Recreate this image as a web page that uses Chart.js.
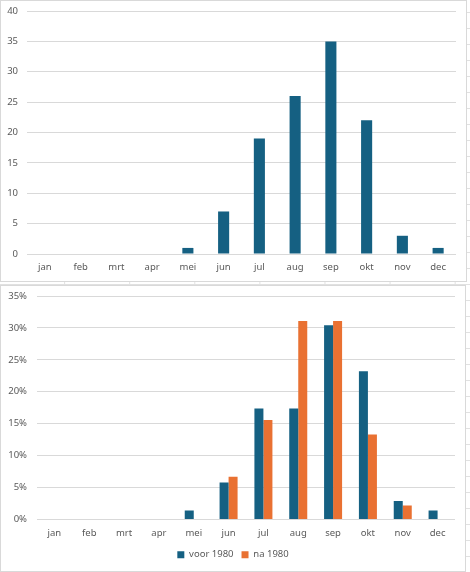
<!DOCTYPE html>
<html>
<head>
<meta charset="utf-8">
<script src="https://cdn.jsdelivr.net/npm/chart.js@4"></script>
<style>
  html, body { margin: 0; padding: 0; }
  body {
    width: 470px; height: 572px; position: relative; overflow: hidden;
    background-color: #fff;
    background-image:
      repeating-linear-gradient(to right, transparent 0, transparent 64px, #e1e1e1 64px, #e1e1e1 65px),
      repeating-linear-gradient(to bottom, transparent 0, transparent 12px, #e1e1e1 12px, #e1e1e1 13px, transparent 13px, transparent 16px);
    background-size: 65.1px 100%, 100% 16px;
    background-position: 0 0, 0 0;
  }
  .box {
    position: absolute; left: 0; background: #fff;
    box-shadow: inset 0 0 0 1px #d9d9d9;
  }
  #boxTop { top: 0; width: 467px; height: 282px; }
  #boxBottom { top: 285px; width: 466px; height: 287px; }
  canvas { position: absolute; left: 0; top: 0; }
</style>
</head>
<body>
<div class="box" id="boxTop"><canvas id="grafiekAantal" width="467" height="282"></canvas></div>
<div class="box" id="boxBottom"><canvas id="grafiekProcent" width="466" height="287"></canvas></div>
<script>
// Maanden en waarden
const maanden = ['jan', 'feb', 'mrt', 'apr', 'mei', 'jun', 'jul', 'aug', 'sep', 'okt', 'nov', 'dec'];
const aantallen = [0, 0, 0, 0, 1, 7, 19, 26, 35, 22, 3, 1];
const voor1980 = [0, 0, 0, 0, 1.4, 5.8, 17.4, 17.4, 30.4, 23.2, 2.9, 1.4];
const na1980 = [0, 0, 0, 0, 0, 6.7, 15.6, 31.1, 31.1, 13.3, 2.2, 0];
const ticksAantal = [0, 5, 10, 15, 20, 25, 30, 35, 40];
const ticksProcent = [0, 5, 10, 15, 20, 25, 30, 35];

const blauw = '#156082';
const oranje = '#E97132';
const tekstKleur = '#595959';
const rasterKleur = '#d9d9d9';
const lettertype = { family: 'Noto Sans', size: 9.5 };

Chart.defaults.animation = false;
Chart.defaults.color = tekstKleur;
Chart.defaults.font.family = 'Noto Sans';

// vaste maten voor de assen, zonder extra randruimte
function vasteBreedte(b) {
    return (s) => { s.width = b; s.paddingTop = 0; s.paddingBottom = 0; };
}
function vasteHoogte(h) {
    return (s) => { s.height = h; s.paddingLeft = 0; s.paddingRight = 0; };
}
// lege as rechts als marge
const rechterMarge = {
    position: 'right',
    grid: { display: false, drawTicks: false },
    border: { display: false },
    ticks: { display: false },
    afterFit: vasteBreedte(11)
};

// Grafiek 1: aantallen per maand
const ctxAantal = document.getElementById('grafiekAantal').getContext('2d');
new Chart(ctxAantal, {
    type: 'bar',
    data: {
        labels: maanden,
        datasets: [{
            label: 'aantal',
            data: aantallen,
            backgroundColor: blauw,
            categoryPercentage: 1,
            barPercentage: 0.31
        }]
    },
    options: {
        responsive: false,
        layout: { padding: { top: 11, right: 0, left: 0, bottom: 0 } },
        plugins: { legend: { display: false }, tooltip: { enabled: false } },
        scales: {
            x: {
                grid: { display: false, drawTicks: false },
                border: { display: false },
                ticks: { font: lettertype, padding: 8, maxRotation: 0 },
                afterFit: vasteHoogte(28)
            },
            y: {
                min: 0,
                max: 40,
                afterBuildTicks: (s) => { s.ticks = ticksAantal.map(v => ({ value: v })); },
                grid: { color: rasterKleur, drawTicks: false },
                border: { display: false },
                ticks: { font: lettertype, padding: 9 },
                afterFit: vasteBreedte(27)
            },
            marge: rechterMarge
        }
    }
});

// Grafiek 2: percentage voor en na 1980
const ctxProcent = document.getElementById('grafiekProcent').getContext('2d');
new Chart(ctxProcent, {
    type: 'bar',
    data: {
        labels: maanden,
        datasets: [{
            label: 'voor 1980',
            data: voor1980,
            backgroundColor: blauw,
            categoryPercentage: 0.517,
            barPercentage: 1
        }, {
            label: 'na 1980',
            data: na1980,
            backgroundColor: oranje,
            categoryPercentage: 0.517,
            barPercentage: 1
        }]
    },
    options: {
        responsive: false,
        layout: { padding: { top: 11, right: 0, left: 0, bottom: 2.5 } },
        plugins: {
            tooltip: { enabled: false },
            legend: {
                position: 'bottom',
                labels: {
                    boxWidth: 7,
                    boxHeight: 7,
                    padding: 8,
                    color: tekstKleur,
                    font: { family: 'Noto Sans', size: 9.5 }
                }
            }
        },
        scales: {
            x: {
                grid: { display: false, drawTicks: false },
                border: { display: false },
                ticks: { font: lettertype, padding: 8.5, maxRotation: 0 },
                afterFit: vasteHoogte(22.5)
            },
            y: {
                min: 0,
                max: 35,
                afterBuildTicks: (s) => { s.ticks = ticksProcent.map(v => ({ value: v })); },
                grid: { color: rasterKleur, drawTicks: false },
                border: { display: false },
                ticks: { font: lettertype, padding: 10, callback: (v) => v + '%' },
                afterFit: vasteBreedte(37)
            },
            marge: rechterMarge
        }
    }
});
</script>
</body>
</html>
